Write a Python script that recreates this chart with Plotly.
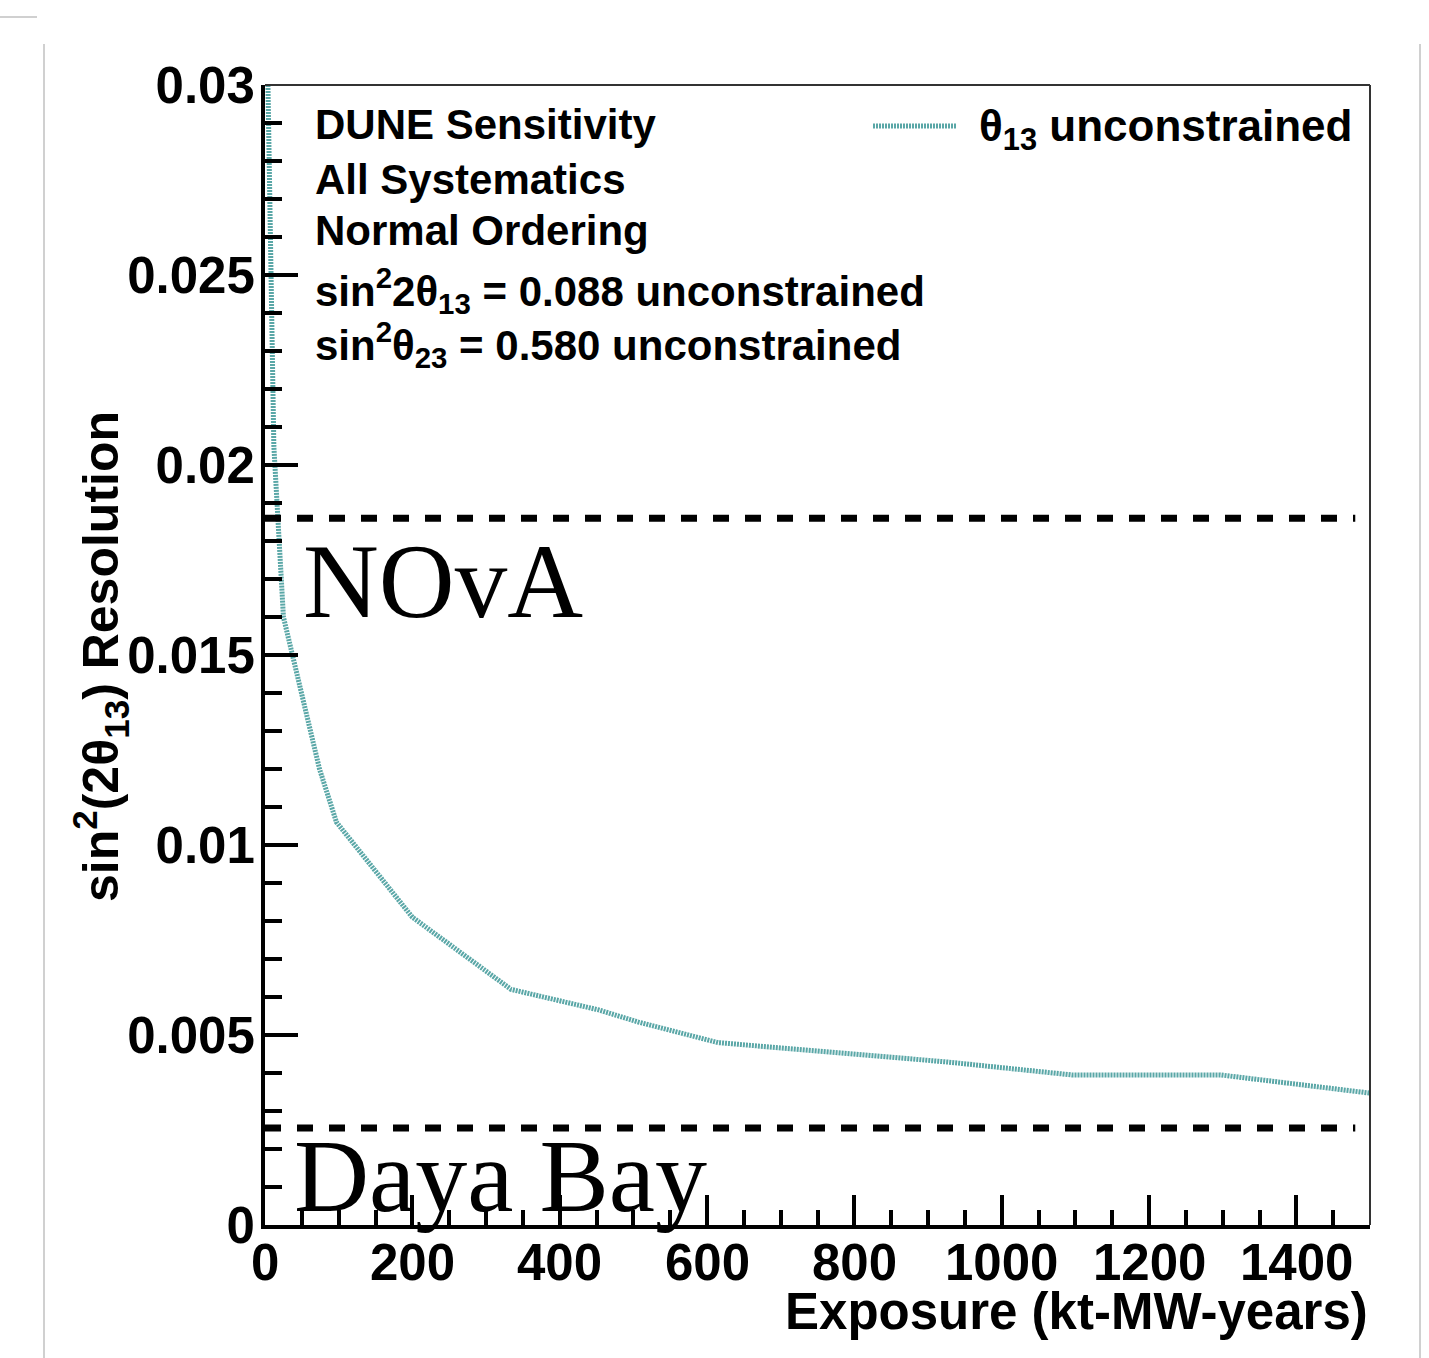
import plotly.graph_objects as go

# DUNE sin^2(2theta13) resolution vs exposure
exposure = [4, 12, 25, 57, 74, 97, 200, 334, 453, 507, 615, 926, 1095, 1297, 1500]
resolution = [0.0300, 0.0205, 0.0160, 0.0133, 0.0120, 0.0106, 0.0081, 0.0062,
              0.00566, 0.00534, 0.0048, 0.00429, 0.00395, 0.00395, 0.00347]

# Reference experiment resolutions
nova_res = 0.0186
dayabay_res = 0.00255
ref_x = [0, 1480]

y_tickvals = [0, 0.005, 0.01, 0.015, 0.02, 0.025, 0.03]
y_ticktext = ["0", "0.005", "0.01", "0.015", "0.02", "0.025", "0.03"]
x_tickvals = [0, 200, 400, 600, 800, 1000, 1200, 1400]
x_ticktext = ["0", "200", "400", "600", "800", "1000", "1200", "1400"]

TEAL = "#5aa7a7"
SANS = "Liberation Sans"
SERIF = "Liberation Serif"

fig = go.Figure()

fig.add_trace(go.Scatter(
    x=exposure, y=resolution, mode="lines",
    line=dict(color=TEAL, width=5, dash="2px,1px"),
    showlegend=False,
))
for yv in (nova_res, dayabay_res):
    fig.add_trace(go.Scatter(
        x=ref_x, y=[yv, yv], mode="lines",
        line=dict(color="black", width=7, dash="16px,16px"),
        showlegend=False,
    ))

W, H = 1429, 1358
L, R, T, B = 265, 59, 85, 133
PW, PH = W - L - R, H - T - B


def px(xp):
    return (xp - L) / PW


def py(yp):
    return (H - B - yp) / PH


bold = dict(family=SANS, size=42, color="black", weight="bold")
big_bold = dict(family=SANS, size=51, color="black", weight="bold")

annos = []
info_lines = [
    ("DUNE Sensitivity", 124),
    ("All Systematics", 179),
    ("Normal Ordering", 231),
    ("sin<sup>2</sup>2θ<sub>13</sub> = 0.088 unconstrained", 290),
    ("sin<sup>2</sup>θ<sub>23</sub> = 0.580 unconstrained", 344),
]
for txt, yp in info_lines:
    annos.append(dict(text=txt, x=px(313), y=py(yp), xref="paper", yref="paper",
                      xanchor="left", yanchor="middle", showarrow=False, font=bold))

annos.append(dict(text="θ<sub>13</sub> unconstrained", x=px(977), y=py(129),
                  xref="paper", yref="paper", xanchor="left", yanchor="middle",
                  showarrow=False, font=dict(bold, size=44)))

annos.append(dict(text="NOvA", x=px(301), y=py(581), xref="paper", yref="paper",
                  xanchor="left", yanchor="middle", showarrow=False,
                  font=dict(family=SERIF, size=105, color="black")))
annos.append(dict(text="Daya Bay", x=px(292), y=py(1175), xref="paper", yref="paper",
                  xanchor="left", yanchor="middle", showarrow=False,
                  font=dict(family=SERIF, size=104, color="black")))

# x tick labels placed on the data scale
for v, t in zip(x_tickvals, x_ticktext):
    annos.append(dict(text=t, x=v, xref="x", y=py(1262), yref="paper",
                      xanchor="center", yanchor="middle", showarrow=False,
                      font=big_bold))

annos.append(dict(text="Exposure (kt-MW-years)", x=px(1370), y=py(1311),
                  xref="paper", yref="paper", xanchor="right", yanchor="middle",
                  showarrow=False, font=big_bold))
annos.append(dict(text="sin<sup>2</sup>(2θ<sub>13</sub>) Resolution", x=px(100), y=py(657),
                  xref="paper", yref="paper", xanchor="center", yanchor="middle",
                  textangle=-90, showarrow=False, font=dict(bold, size=50)))

shapes = [
    # thin top and right frame edges
    dict(type="line", xref="paper", yref="paper", x0=0, x1=1, y0=1, y1=1,
         line=dict(color="#333333", width=2)),
    dict(type="line", xref="paper", yref="paper", x0=1, x1=1, y0=0, y1=1,
         line=dict(color="#333333", width=2)),
    # legend key
    dict(type="line", xref="paper", yref="paper", x0=px(873), x1=px(957),
         y0=py(126), y1=py(126), line=dict(color=TEAL, width=5, dash="2px,1px")),
    # page borders
    dict(type="line", xref="paper", yref="paper", x0=px(44), x1=px(44),
         y0=py(44), y1=py(1358), line=dict(color="#d0d0d0", width=2)),
    dict(type="line", xref="paper", yref="paper", x0=px(1420), x1=px(1420),
         y0=py(44), y1=py(1358), line=dict(color="#d0d0d0", width=2)),
    dict(type="line", xref="paper", yref="paper", x0=px(0), x1=px(37),
         y0=py(17), y1=py(17), line=dict(color="#d0d0d0", width=2)),
]

fig.update_layout(
    width=W, height=H,
    margin=dict(l=L, r=R, t=T, b=B, pad=0),
    paper_bgcolor="white", plot_bgcolor="white",
    annotations=annos, shapes=shapes,
    xaxis=dict(
        range=[0, 1500], tickvals=x_tickvals, showticklabels=False,
        ticks="inside", ticklen=30,
        tickwidth=4, tickcolor="black", showline=True, linewidth=4,
        linecolor="black", showgrid=False, zeroline=False,
        minor=dict(dtick=50, tick0=0, ticks="inside", ticklen=15, tickwidth=4,
                   tickcolor="black", showgrid=False),
    ),
    yaxis=dict(
        range=[0, 0.03], tickvals=y_tickvals, ticktext=y_ticktext, ticks="inside",
        ticklen=33, tickwidth=4, tickcolor="black", showline=True, linewidth=4,
        linecolor="black", showgrid=False, zeroline=False, tickfont=big_bold,
        ticklabelstandoff=-4,
        minor=dict(dtick=0.001, tick0=0, ticks="inside", ticklen=17, tickwidth=4,
                   tickcolor="black", showgrid=False),
    ),
)

fig.write_html("out.html")
